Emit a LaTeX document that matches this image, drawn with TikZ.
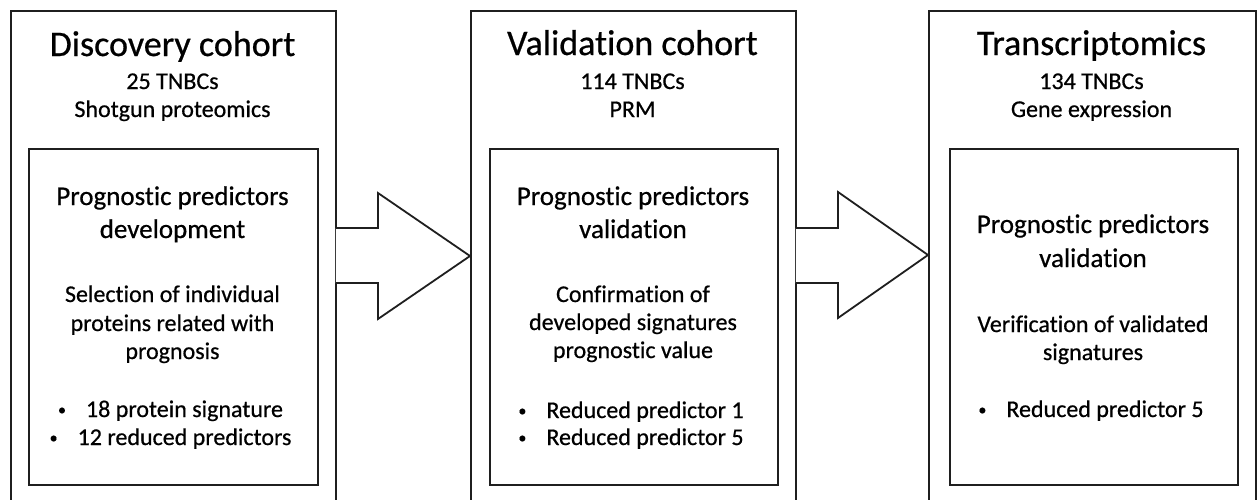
\documentclass[tikz,border=0pt]{standalone}
\usepackage{fontspec}
\setmainfont{Carlito}[Ligatures={NoCommon},FakeBold=0.6,BoldFont={Carlito},BoldFeatures={FakeBold=0.6}]
\usetikzlibrary{calc}
\definecolor{linec}{gray}{0.12}
\tikzset{
  outerbox/.style={draw=linec, line width=1.8pt, rectangle, inner sep=0pt, anchor=north west, minimum height=530pt},
  innerbox/.style={draw=linec, line width=1.8pt, rectangle, inner sep=0pt, anchor=north west, minimum height=336pt},
  hd/.style={anchor=base, inner sep=0pt, font=\fontsize{36}{43}\selectfont},
  sub/.style={anchor=base, inner sep=0pt, font=\fontsize{24}{29}\selectfont},
  ttl/.style={anchor=base, inner sep=0pt, font=\fontsize{27}{33}\selectfont},
  body/.style={anchor=base, inner sep=0pt, font=\fontsize{24}{29}\selectfont},
  blockarrow/.style={draw=linec, line width=1.8pt, fill=white, line join=miter},
}
\newcommand{\bul}[1]{\makebox[0pt][c]{\raisebox{2pt}{\fontsize{16}{16}\selectfont\textbullet}}\hspace{24pt}#1}
\begin{document}
\begin{tikzpicture}[x=1pt,y=-1pt]
\useasboundingbox (0,0) rectangle (1257,499);
\fill[white] (0,0) rectangle (1257,499);
\clip (0,0) rectangle (1257,499);
% outer boxes
\node[outerbox, minimum width=325pt] (o1) at (10,10) {};
\node[outerbox, minimum width=325pt] (o2) at (470,10) {};
\node[outerbox, minimum width=327pt] (o3) at (928,10) {};
% block arrows
\draw[blockarrow] ($(o1.north east |- 0,228)+(-0.9,0)$) -- (378,228) -- (378,193)
  -- (o2.north west |- 0,256) -- (378,319) -- (378,283) -- ($(o1.north east |- 0,283)+(-0.9,0)$);
\draw[blockarrow] ($(o2.north east |- 0,228)+(-0.9,0)$) -- (838,228) -- (838,192)
  -- (o3.north west |- 0,255) -- (838,318) -- (838,283) -- ($(o2.north east |- 0,283)+(-0.9,0)$);
% inner boxes
\node[innerbox, minimum width=289pt] (i1) at (28,148) {};
\node[innerbox, minimum width=288pt] (i2) at (489,148) {};
\node[innerbox, minimum width=288pt] (i3) at (949,148) {};
% box 1 texts
\node[hd] (h1) at (172.5,56) {Discovery cohort};
\node[sub] (s1a) at (172.5,89) {25 TNBCs};
\node[sub] (s1b) at (172.5,117) {Shotgun proteomics};
\node[ttl] (t1a) at (172.5,205) {Prognostic predictors};
\node[ttl] (t1b) at (172.5,238) {development};
\node[body] (b1a) at (172.5,302) {Selection of individual};
\node[body] (b1b) at (172.5,331) {proteins related with};
\node[body] (b1c) at (172.5,359) {prognosis};
\node[body] (l1a) at (172.5,417) {\bul{18 protein signature}};
\node[body] (l1b) at (172.5,445) {\bul{12 reduced predictors}};
% box 2 texts
\node[hd] (h2) at (632.5,55) {Validation cohort};
\node[sub] (s2a) at (632.5,89) {114 TNBCs};
\node[sub] (s2b) at (632.5,117) {PRM};
\node[ttl] (t2a) at (633,205) {Prognostic predictors};
\node[ttl] (t2b) at (633,238) {validation};
\node[body] (b2a) at (633,302) {Confirmation of};
\node[body] (b2b) at (633,330) {developed signatures};
\node[body] (b2c) at (633,358) {prognostic value};
\node[body] (l2a) at (633,418) {\bul{Reduced predictor 1}};
\node[body] (l2b) at (633,445) {\bul{Reduced predictor 5}};
% box 3 texts
\node[hd] (h3) at (1091.5,55) {Transcriptomics};
\node[sub] (s3a) at (1091.5,89) {134 TNBCs};
\node[sub] (s3b) at (1091.5,117) {Gene expression};
\node[ttl] (t3a) at (1093,233) {Prognostic predictors};
\node[ttl] (t3b) at (1093,267) {validation};
\node[body] (b3a) at (1093,332) {Verification of validated};
\node[body] (b3b) at (1093,360) {signatures};
\node[body] (l3a) at (1093,417) {\bul{Reduced predictor 5}};
\end{tikzpicture}
\end{document}
